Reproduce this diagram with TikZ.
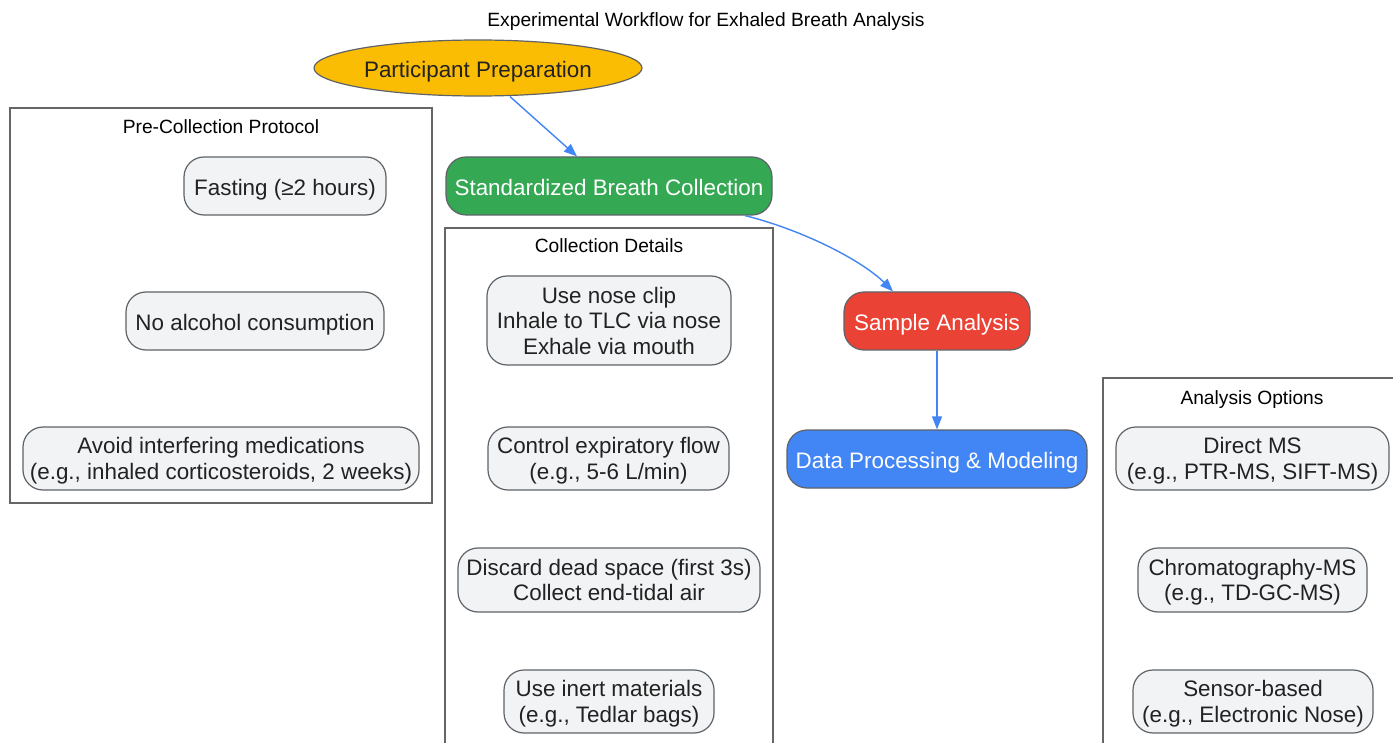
\documentclass[tikz,border=0pt]{standalone}
\usepackage{fontspec}
\setmainfont{Liberation Sans}
\usetikzlibrary{arrows.meta,shapes.geometric}
\definecolor{nodegray}{HTML}{F1F3F4}
\definecolor{bordergray}{HTML}{5F6368}
\definecolor{clustergray}{HTML}{666666}
\definecolor{textdark}{HTML}{222222}
\definecolor{gyellow}{HTML}{FBBC04}
\definecolor{ggreen}{HTML}{34A853}
\definecolor{gred}{HTML}{EA4335}
\definecolor{gblue}{HTML}{4285F4}
\begin{document}
\begin{tikzpicture}[x=1pt,y=-1pt,
  box/.style={draw=bordergray, line width=1.2pt, rounded corners=20pt, fill=nodegray, text=textdark,
    font=\fontsize{22.4}{25.5}\selectfont, align=center, inner sep=0pt, minimum height=58pt},
  oneline/.style={text height=19pt, text depth=0pt},
  multiline/.style={text depth=-3pt},
  mainbox/.style={box, oneline, text=white},
  cluster/.style={draw=clustergray, line width=1.3pt, inner sep=0pt},
  clabel/.style={font=\fontsize{19.2}{22}\selectfont, text=black, inner sep=0pt, anchor=base},
  flow/.style={draw=gblue, line width=1.4pt, -{Triangle[length=13pt,width=10pt]}}
]
\useasboundingbox[fill=white] (0,0) rectangle (1393,743);

% title
\node[clabel] (title) at (706,27) {Experimental Workflow for Exhaled Breath Analysis};

% clusters
\node[cluster, minimum width=422pt, minimum height=395pt] (pre) at (221,305.5) {};
\node[clabel] (prelabel) at (221,134) {Pre-Collection Protocol};
\node[cluster, minimum width=328pt, minimum height=532pt] (coll) at (609,494) {};
\node[clabel] (colllabel) at (609,253) {Collection Details};
\node[cluster, minimum width=302pt, minimum height=382pt] (ana) at (1254,569) {};
\node[clabel] (analabel) at (1252,404) {Analysis Options};

% main flow
\node[ellipse, draw=bordergray, line width=1.2pt, fill=gyellow, text=textdark, oneline,
  font=\fontsize{22.4}{25.5}\selectfont, inner sep=0pt, minimum width=328pt, minimum height=56pt]
  (pp) at (478,68) {Participant Preparation};
\node[mainbox, fill=ggreen, minimum width=326pt] (sbc) at (609,186) {Standardized Breath Collection};
\node[mainbox, fill=gred, minimum width=186pt] (sa) at (937,321) {Sample Analysis};
\node[mainbox, fill=gblue, minimum width=300pt] (dpm) at (937,459) {Data Processing \& Modeling};

% pre-collection
\node[box, oneline, minimum width=202pt] (fast) at (285,186) {Fasting (≥2 hours)};
\node[box, oneline, minimum width=258pt] (alc) at (255,321) {No alcohol consumption};
\node[box, multiline, minimum width=396pt, minimum height=63pt] (med) at (221,458.5) {Avoid interfering medications\\(e.g., inhaled corticosteroids, 2 weeks)};

% collection details
\node[box, multiline, minimum width=244pt, minimum height=89pt] (clip) at (609,320.5) {Use nose clip\\Inhale to TLC via nose\\Exhale via mouth};
\node[box, multiline, minimum width=241pt, minimum height=63pt] (flowc) at (608.5,458.5) {Control expiratory flow\\(e.g., 5-6 L/min)};
\node[box, multiline, minimum width=302pt, minimum height=64pt] (dead) at (609,580) {Discard dead space (first 3s)\\Collect end-tidal air};
\node[box, multiline, minimum width=210pt, minimum height=63pt] (inert) at (609,701.5) {Use inert materials\\(e.g., Tedlar bags)};

% analysis options
\node[box, multiline, minimum width=273pt, minimum height=63pt] (dms) at (1252.5,458.5) {Direct MS\\(e.g., PTR-MS, SIFT-MS)};
\node[box, multiline, minimum width=229pt, minimum height=64pt] (cms) at (1252.5,580) {Chromatography-MS\\(e.g., TD-GC-MS)};
\node[box, multiline, minimum width=240pt, minimum height=63pt] (sens) at (1253,701.5) {Sensor-based\\(e.g., Electronic Nose)};

% connectors
\draw[flow] ([xshift=32pt]pp.south) -- ([xshift=-32pt]sbc.north);
\draw[flow] ([xshift=136pt]sbc.south) .. controls +(60,15) and +(-30,-30) .. ([xshift=-44pt]sa.north);
\draw[flow] (sa.south) -- (dpm.north);
\end{tikzpicture}
\end{document}
